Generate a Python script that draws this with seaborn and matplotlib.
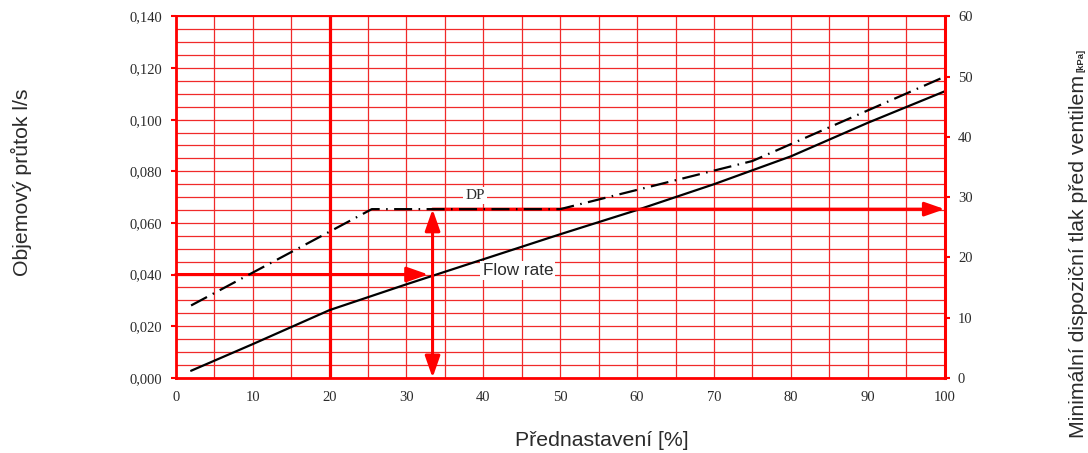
import matplotlib
matplotlib.use("Agg")
import matplotlib.pyplot as plt
from matplotlib.ticker import MultipleLocator, FuncFormatter
import seaborn as sns

# Presetting [%] vs. volume flow [l/s]
setting = [2, 10, 20, 30, 40, 50, 60, 70, 80, 90, 100]
flow = [0.0027, 0.0130, 0.0262, 0.0362, 0.0459, 0.0556, 0.0650, 0.0750, 0.0858, 0.0988, 0.1110]

# Presetting [%] vs. minimum differential pressure DP [kPa]
dp_setting = [2, 25.5, 50, 60, 70, 75, 80, 90, 100]
dp = [12, 28, 28, 31.2, 34.4, 36, 38.8, 44.4, 50]

setting_ticks = [0, 10, 20, 30, 40, 50, 60, 70, 80, 90, 100]
flow_ticks = [0.000, 0.020, 0.040, 0.060, 0.080, 0.100, 0.120, 0.140]
dp_ticks = [0, 10, 20, 30, 40, 50, 60]

# Worked example
marked_setting = 20
reading_flow = 0.040
reading_setting = 33.4
dp_level = 28

sns.set_style("white")
SERIF = ["Liberation Serif", "DejaVu Serif"]
SANS = ["Liberation Sans", "DejaVu Sans"]
plt.rcParams["font.family"] = SERIF

RED = "#ff0000"
GRID = "#f02a2a"
INK = "#2b2b2b"

fig = plt.figure(figsize=(10.88, 4.53), dpi=100)
ax = fig.add_axes([0.1615, 0.1662, 0.7068, 0.7974])
ax2 = ax.twinx()

# scales
ax.set_xlim(0, 100)
ax.set_ylim(0, 0.14)
ax2.set_ylim(0, 60)
ax.set_xticks(setting_ticks)
ax.set_yticks(flow_ticks)
ax2.set_yticks(dp_ticks)
ax.xaxis.set_minor_locator(MultipleLocator(5))
ax.yaxis.set_minor_locator(MultipleLocator(0.005))
ax.yaxis.set_major_formatter(FuncFormatter(lambda v, p: f"{v:.3f}".replace(".", ",")))

# red millimetre-style grid
ax.grid(True, which="both", color=GRID, lw=0.9)
ax.set_axisbelow(True)
ax.tick_params(which="minor", length=0)
for a in (ax, ax2):
    a.tick_params(which="major", direction="out", length=3.5, width=1.5,
                  color=RED, labelcolor=INK, labelsize=10.5, pad=6)

for side in ("left", "bottom"):
    ax.spines[side].set_color(RED)
    ax.spines[side].set_linewidth(2.0)
ax.spines["top"].set_color(RED)
ax.spines["top"].set_linewidth(1.4)
ax.spines["right"].set_visible(False)
for side in ("left", "bottom", "top"):
    ax2.spines[side].set_visible(False)
ax2.spines["right"].set_color(RED)
ax2.spines["right"].set_linewidth(2.2)

# example construction lines
head = "head_length=1.0,head_width=0.35"
ax.axvline(marked_setting, color=RED, lw=2.3, zorder=2)
ax.annotate("", xy=(reading_setting, reading_flow), xytext=(0, reading_flow),
            arrowprops=dict(arrowstyle="-|>," + head, mutation_scale=13, lw=2.2,
                            color=RED, shrinkA=0, shrinkB=3), zorder=2)
ax2.annotate("", xy=(reading_setting, dp_level), xytext=(reading_setting, 0),
             arrowprops=dict(arrowstyle="<|-|>," + head, mutation_scale=13, lw=2.2,
                             color=RED, shrinkA=0, shrinkB=0), zorder=2)
ax2.annotate("", xy=(100, dp_level), xytext=(reading_setting, dp_level),
             arrowprops=dict(arrowstyle="-|>," + head, mutation_scale=12, lw=2.2,
                             color=RED, shrinkA=0, shrinkB=0), zorder=2)

# curves
sns.lineplot(x=setting, y=flow, ax=ax, color="black", lw=1.6, zorder=3)
sns.lineplot(x=dp_setting, y=dp, ax=ax2, color="black", lw=1.6, zorder=3)
ax2.lines[-1].set_dashes([8.1, 2.9, 0.7, 2.9])

ax.set_xlabel("")
ax.set_ylabel("")
ax2.set_ylabel("")

box = dict(facecolor="white", edgecolor="none", pad=1.5)
ax.text(38.9, 0.0705, "DP", ha="center", va="center", fontsize=11,
        color=INK, bbox=box, zorder=4)
ax.text(39.9, 0.0415, "Flow rate", ha="left", va="center", family=SANS,
        fontsize=12.3, color=INK, bbox=box, zorder=4)

# axis titles
fig.text(602 / 1088, 1 - 440 / 453, "Přednastavení [%]", ha="center", va="center",
         family=SANS, fontsize=15.3, color=INK)
fig.text(21.5 / 1088, 1 - 182.5 / 453, "Objemový průtok l/s", rotation=90,
         ha="center", va="center", family=SANS, fontsize=15.3, color=INK)
main = fig.text(1079 / 1088, 1 - 438 / 453, "Minimální dispoziční tlak před ventilem",
                rotation=90, ha="center", va="bottom", family=SANS,
                fontsize=15.3, color=INK)
ax.annotate("[kPa]", xy=(1, 1), xycoords=main, xytext=(-1.8, 2),
            textcoords="offset points", rotation=90, ha="right", va="bottom",
            family=SANS, fontsize=6.8, fontweight="bold", color=INK,
            annotation_clip=False)

fig.savefig("out.png", dpi=100)
